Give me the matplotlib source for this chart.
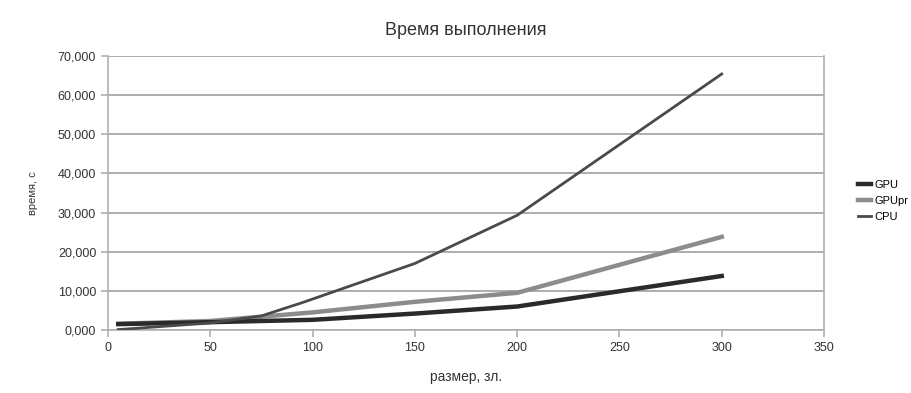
import matplotlib
matplotlib.use("Agg")
import matplotlib.pyplot as plt
from matplotlib.ticker import FuncFormatter

plt.rcParams['font.family'] = ['Liberation Sans', 'DejaVu Sans']

title = "Время выполнения"
xlabel = "размер, зл."
ylabel = "время, с"

x_gpu = [5, 50, 100, 150, 200, 300]
gpu = [1.5, 2.0, 2.6, 4.2, 6.0, 13.8]

x_gpupr = [5, 50, 100, 150, 200, 300]
gpupr = [1.6, 2.3, 4.5, 7.2, 9.5, 23.8]

x_cpu = [5, 50, 75, 95, 150, 200, 300]
cpu = [0.1, 1.8, 3.6, 7.0, 17.0, 29.3, 65.4]

fig = plt.figure(figsize=(9.11, 3.93), dpi=100)
ax = fig.add_axes([108/911, 1-330/393, (824-108)/911, (330-56)/393])

ax.plot(x_gpu, gpu, color='#2a2a2a', lw=3.2, label='GPU', zorder=4)
ax.plot(x_gpupr, gpupr, color='#8c8c8c', lw=3.2, label='GPUpr', zorder=3)
ax.plot(x_cpu, cpu, color='#4a4a4a', lw=2.0, label='CPU', zorder=5)

ax.set_xlim(0, 350)
ax.set_ylim(0, 70)
ax.set_xticks(range(0, 351, 50))
ax.set_yticks(range(0, 71, 10))
ax.yaxis.set_major_formatter(FuncFormatter(lambda v, p: f"{v:.3f}".replace('.', ',')))
ax.grid(axis='y', color='#a0a0a0', lw=1.2)
ax.set_axisbelow(True)
for s in ax.spines.values():
    s.set_color('#b0b0b0')
    s.set_linewidth(1.2)
ax.spines['top'].set_visible(False)
ax.tick_params(colors='#b0b0b0', labelcolor='#333333', labelsize=9, length=5, width=1.2)

ax.set_title(title, fontsize=13, color='#333333', pad=15)
ax.set_xlabel(xlabel, fontsize=10, color='#333333', labelpad=12)
ax.set_ylabel(ylabel, fontsize=8, color='#333333', labelpad=14)

ax.legend(loc='center left', bbox_to_anchor=((858-108)/716, (330-201)/274), frameon=False,
          fontsize=8, handlelength=1.2, handletextpad=0.3, labelspacing=0.55,
          borderaxespad=0, borderpad=0)

fig.savefig("out.png", dpi=100, facecolor='white')
